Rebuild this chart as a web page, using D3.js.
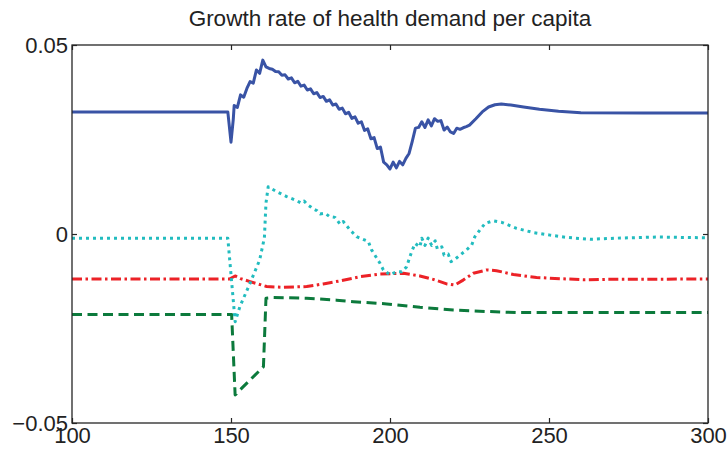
<!DOCTYPE html>
<html>
<head>
<meta charset="utf-8">
<script src="https://cdn.jsdelivr.net/npm/d3@7"></script>
<style>
  body { margin: 0; background: #fff; }
  text { font-family: "Liberation Sans", Arial, sans-serif; fill: #222; }
  .frame { fill: none; stroke: #262626; stroke-width: 1.3; }
  .axis path { display: none; }
  .axis line { stroke: #262626; stroke-width: 1.2; }
  .line { fill: none; stroke-width: 3; stroke-linejoin: round; }
</style>
</head>
<body>
<div id="chart"></div>
<script>
// values: [period, growth rate]
var titleText = "Growth rate of health demand per capita"
var xTicks = [100, 150, 200, 250, 300]
var yTicks = [-0.05, 0, 0.05]

var blueSeries = [
  [100, 0.0323], [149, 0.0323], [150, 0.0243], [150.7, 0.0302], [151, 0.0340], [152, 0.0335],
  [153, 0.0368], [154, 0.0362], [155, 0.0385], [156, 0.0403], [157, 0.0399], [158, 0.0434],
  [159, 0.0425], [160, 0.0460], [161, 0.0442], [162, 0.0438], [163, 0.0436], [164, 0.0430],
  [165, 0.0429], [166, 0.0420], [167, 0.0421], [168, 0.0410], [169, 0.0413], [170, 0.0400],
  [171, 0.0404], [172, 0.0391], [173, 0.0394], [174, 0.0381], [175, 0.0384], [176, 0.0371],
  [177, 0.0374], [178, 0.0361], [179, 0.0364], [180, 0.0351], [181, 0.0355], [182, 0.0341],
  [183, 0.0344], [184, 0.0330], [185, 0.0333], [186, 0.0318], [187, 0.0322], [188, 0.0306],
  [189, 0.0310], [190, 0.0293], [191, 0.0297], [192, 0.0274], [193, 0.0278], [194, 0.0252],
  [195, 0.0255], [196, 0.0226], [197, 0.0230], [198, 0.0190], [199, 0.0183], [200, 0.0172],
  [201, 0.0190], [202, 0.0175], [203, 0.0192], [204, 0.0183], [205, 0.0200], [206, 0.0213],
  [207, 0.0245], [208, 0.0280], [209, 0.0282], [210, 0.0297], [211, 0.0282], [212, 0.0302],
  [213, 0.0286], [214, 0.0305], [215, 0.0298], [216, 0.0300], [217, 0.0275], [218, 0.0283],
  [219, 0.0270], [220, 0.0266], [221, 0.0280], [222, 0.0277], [223, 0.0281], [224, 0.0284],
  [225, 0.0288], [227, 0.0305], [229, 0.0323], [231, 0.0336], [233, 0.0342], [235, 0.0344],
  [238, 0.0341], [242, 0.0336], [247, 0.0330], [253, 0.0325], [260, 0.0321], [280, 0.0320],
  [300, 0.0320]
]

var cyanSeries = [
  [100, -0.0011], [149, -0.0011], [151.3, -0.0232], [152.8, -0.0192], [156, -0.0130],
  [159, -0.0069], [160.5, -0.0010], [161, 0.0082], [161.7, 0.0125], [164.4, 0.0112],
  [167.5, 0.0099], [170.7, 0.0088], [172, 0.0082], [173, 0.0087], [174, 0.0078],
  [175, 0.0072], [176, 0.0066], [177, 0.0062], [178, 0.0053], [179.6, 0.0055],
  [181, 0.0046], [182.7, 0.0044], [184.3, 0.0026], [185.3, 0.0033], [187.4, 0.0011],
  [189.5, -0.0007], [193.2, -0.0020], [194.2, -0.0042], [196.9, -0.0078], [197.9, -0.0095],
  [200, -0.0108], [202.1, -0.0100], [203.7, -0.0100], [205.2, -0.0087], [206.8, -0.0047],
  [207.9, -0.0025], [209.4, -0.0034], [210, -0.0011], [211, -0.0030], [212, -0.0011],
  [213.1, -0.0030], [214.2, -0.0018], [214.9, -0.0040], [216.3, -0.0034], [217, -0.0056],
  [218.3, -0.0053], [219.2, -0.0073], [220.4, -0.0067], [222, -0.0056], [224.1, -0.0042],
  [225.7, -0.0029], [226.7, -0.0007], [228.3, 0.0011], [229.9, 0.0028], [232.5, 0.0035],
  [235.1, 0.0031], [239.8, 0.0015], [245, 0.0004], [250.3, -0.0003], [255.6, -0.0009],
  [262.9, -0.0014], [271.3, -0.0011], [283.9, -0.0008], [300, -0.0010]
]

var redSeries = [
  [100, -0.0119], [149.5, -0.0119], [151.3, -0.0111], [153, -0.0118], [156, -0.0126],
  [161.2, -0.0139], [166.4, -0.0141], [173.8, -0.0139], [179, -0.0132], [184.3, -0.0124],
  [190.6, -0.0113], [196.9, -0.0106], [204.2, -0.0104], [209.4, -0.0111], [213.6, -0.0120],
  [217.8, -0.0132], [220.4, -0.0135], [223, -0.0122], [226.2, -0.0104], [230.4, -0.0095],
  [233.5, -0.0097], [238.8, -0.0107], [246.1, -0.0115], [255.6, -0.0119], [260.8, -0.0121],
  [268, -0.0120], [300, -0.0119]
]

var greenSeries = [
  [100, -0.0213], [150.2, -0.0213], [151.3, -0.0426], [152.3, -0.0417], [160.2, -0.0351],
  [161, -0.0170], [163.3, -0.0168], [173.8, -0.0170], [183.2, -0.0175], [188.5, -0.0179],
  [199, -0.0185], [209.4, -0.0194], [219.9, -0.0201], [230.4, -0.0205], [240.9, -0.0208],
  [300, -0.0208]
]

var margin = {top: 45, right: 19, bottom: 29, left: 72},
  width = 727 - margin.left - margin.right,
  height = 452 - margin.top - margin.bottom;

var svg = d3.select("#chart").append("svg")
  .attr("width", 727)
  .attr("height", 452)

svg.append("text")
  .attr("x", margin.left + width / 2)
  .attr("y", 26)
  .attr("text-anchor", "middle")
  .style("font-size", "22.5px")
  .text(titleText)

var g = svg.append("g")
  .attr("transform", "translate(" + margin.left + "," + margin.top + ")");

var x = d3.scaleLinear().domain([100, 300]).range([0, width]);
var y = d3.scaleLinear().domain([-0.05, 0.05]).range([height, 0]);

var fmtY = function(d) { return d === 0 ? "0" : d3.format(".2f")(d).replace("-", "\u2212") }

// axes, ticks pointing inward
g.append("g")
  .attr("class", "axis")
  .attr("transform", "translate(0," + height + ")")
  .call(d3.axisBottom(x).tickValues(xTicks).tickSize(-5).tickPadding(4))
  .selectAll("text").style("font-size", "22px");

g.append("g")
  .attr("class", "axis")
  .call(d3.axisTop(x).tickValues(xTicks).tickSize(-5).tickFormat(""));

g.append("g")
  .attr("class", "axis")
  .call(d3.axisLeft(y).tickValues(yTicks).tickSize(-5).tickPadding(4).tickFormat(fmtY))
  .selectAll("text").style("font-size", "22px");

g.append("g")
  .attr("class", "axis")
  .attr("transform", "translate(" + width + ",0)")
  .call(d3.axisRight(y).tickValues(yTicks).tickSize(-5).tickFormat(""));

g.selectAll(".axis text").style("fill", "#222").style("font-family", "'Liberation Sans', Arial, sans-serif")

var line = d3.line()
  .x(function(d) { return x(d[0]); })
  .y(function(d) { return y(d[1]); });

g.append("path").datum(greenSeries).attr("class", "line")
  .attr("stroke", "#0c7a3c").attr("stroke-dasharray", "10,5.5").attr("d", line);

g.append("path").datum(redSeries).attr("class", "line")
  .attr("stroke", "#ec2227").attr("stroke-dasharray", "10,3.5,2.5,3.5").attr("d", line);

g.append("path").datum(cyanSeries).attr("class", "line")
  .attr("stroke", "#22bcbf").attr("stroke-dasharray", "3,4").attr("d", line);

g.append("path").datum(blueSeries).attr("class", "line")
  .attr("stroke", "#3953a5").attr("d", line);

g.append("rect")
  .attr("class", "frame")
  .attr("width", width)
  .attr("height", height);
</script>
</body>
</html>
